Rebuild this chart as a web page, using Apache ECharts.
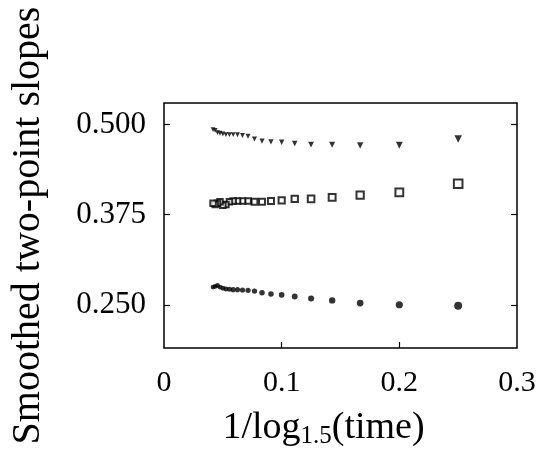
<!DOCTYPE html>
<html><head><meta charset="utf-8">
<script src="https://cdn.jsdelivr.net/npm/echarts@6/dist/echarts.min.js"></script>
<style>html,body{margin:0;padding:0;background:#fff}#c{width:541px;height:454px}</style>
</head><body><div id="c"></div>
<script>
// x values: 1/log_1.5(time)
const xValues = [0.25,0.2,0.1667,0.1429,0.125,0.1111,0.1,0.0909,0.0833,0.0769,0.0714,0.0667,0.0625,0.0588,0.0556,0.0526,0.05,0.0476,0.0455,0.0435,0.0417];
const triangleSlopes = [0.480,0.4714,0.471,0.472,0.4724,0.4738,0.4756,0.476,0.477,0.480,0.484,0.485,0.486,0.486,0.486,0.486,0.487,0.488,0.489,0.492,0.493];
const squareSlopes = [0.418,0.406,0.402,0.399,0.397,0.397,0.395,0.394,0.393,0.393,0.394,0.394,0.394,0.394,0.393,0.389,0.388,0.393,0.391,0.389,0.391];
const circleSlopes = [0.2486,0.250,0.2523,0.256,0.2587,0.2615,0.2638,0.265,0.2666,0.269,0.270,0.2705,0.271,0.271,0.2715,0.272,0.273,0.2745,0.2768,0.2755,0.2745];
const xTickLabels = [0, 0.1, 0.2, 0.3];
const yTickLabels = [0.250, 0.375, 0.500];

const FONT = '"Liberation Serif", "DejaVu Serif", serif';
const pair = (ys) => xValues.map((x, i) => [x, ys[i]]);
const sizeFn = (a, b, lo, hi) => (v) => Math.max(lo, Math.min(hi, a + b * v[0]));

const chart = echarts.init(document.getElementById('c'), null, {renderer: 'canvas'});
chart.setOption({
  animation: false,
  backgroundColor: '#fff',
  grid: {left: 160, right: 24, top: 103, bottom: 104, show: true, borderColor: '#000', borderWidth: 1.5, backgroundColor: 'transparent'},
  xAxis: {
    type: 'value', min: 0, max: 0.3,
    name: '1/log{sub|1.5}(time)',
    nameLocation: 'middle', nameGap: 60,
    nameTextStyle: {fontFamily: FONT, fontSize: 38, color: '#000', padding: [0, 34, 0, 0],
      rich: {sub: {fontFamily: FONT, fontSize: 25, color: '#000', padding: [16, 0, 0, 0]}}},
    axisLine: {show: false},
    splitLine: {show: false},
    axisTick: {show: true, inside: true, length: 6, lineStyle: {color: '#000', width: 1.2}, customValues: [0.1, 0.2]},
    axisLabel: {customValues: xTickLabels, fontFamily: FONT, fontSize: 30, color: '#000', margin: 20,
      formatter: (v) => v === 0 ? '0' : String(+v.toFixed(1))}
  },
  yAxis: [{
    type: 'value', min: 0.19, max: 0.53,
    name: 'Smoothed two-point slopes',
    nameLocation: 'middle', nameGap: 116, nameRotate: 90,
    nameTextStyle: {fontFamily: FONT, fontSize: 40, color: '#000'},
    axisLine: {show: false},
    splitLine: {show: false},
    axisTick: {show: true, inside: true, length: 6, lineStyle: {color: '#000', width: 1.2}, customValues: yTickLabels},
    axisLabel: {customValues: yTickLabels, fontFamily: FONT, fontSize: 31, color: '#000', margin: 18,
      formatter: (v) => v.toFixed(3)}
  }, {
    type: 'value', min: 0.19, max: 0.53, position: 'right',
    axisLine: {show: false}, splitLine: {show: false},
    axisTick: {show: true, inside: true, length: 6, lineStyle: {color: '#000', width: 1.2}, customValues: yTickLabels},
    axisLabel: {show: false}
  }],
  series: [{
    type: 'scatter', name: 'triangles', data: pair(triangleSlopes),
    symbol: 'triangle', symbolRotate: 180, symbolSize: sizeFn(4, 14, 4.8, 8),
    itemStyle: {color: '#000'}
  }, {
    type: 'scatter', name: 'squares', data: pair(squareSlopes),
    symbol: 'emptyRect', symbolSize: sizeFn(4.6, 16, 5.5, 9),
    itemStyle: {color: '#000', borderColor: '#000', borderWidth: 1.5}
  }, {
    type: 'scatter', name: 'circles', data: pair(circleSlopes),
    symbol: 'circle', symbolSize: sizeFn(4.2, 15, 4.8, 8),
    itemStyle: {color: '#000'}
  }]
});
</script></body></html>
